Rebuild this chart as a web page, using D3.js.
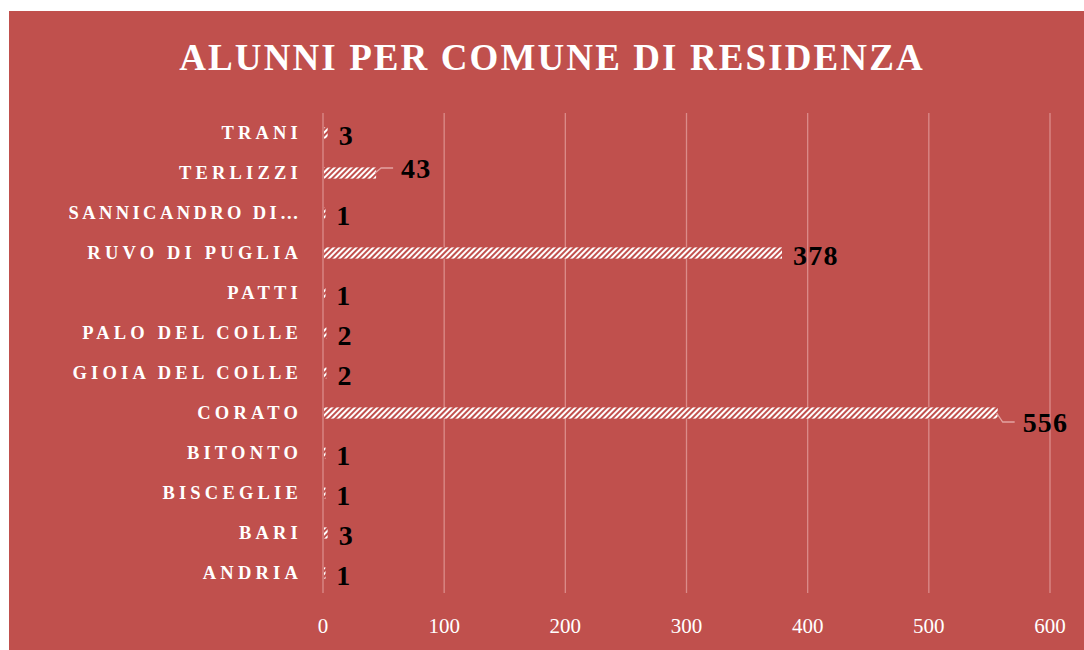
<!DOCTYPE html>
<html>
<head>
<meta charset="utf-8">
<script src="https://cdn.jsdelivr.net/npm/d3@7"></script>
<style>
  body { margin: 0; background: #fff; }
  svg { display: block; }
</style>
</head>
<body>
<div id="chart"></div>
<script>
// data, bottom to top as in the chart
const comuni = ['ANDRIA', 'BARI', 'BISCEGLIE', 'BITONTO', 'CORATO', 'GIOIA DEL COLLE',
  'PALO DEL COLLE', 'PATTI', 'RUVO DI PUGLIA', 'SANNICANDRO DI…', 'TERLIZZI', 'TRANI']
const alunni = [1, 3, 1, 1, 556, 2, 2, 1, 378, 1, 43, 3]
const xTicks = [0, 100, 200, 300, 400, 500, 600]
const title = 'ALUNNI PER COMUNE DI RESIDENZA'

const W = 1084
const H = 650
const margin = { top: 113, left: 323, right: 34, bottom: 56 }
const red = '#C0504D'
const serif = 'Liberation Serif, DejaVu Serif, serif'

const svg = d3.select('#chart')
  .append('svg')
  .attr('width', W)
  .attr('height', H)

// hatch pattern for bars
const defs = svg.append('defs')
const pat = defs.append('pattern')
  .attr('id', 'hatch')
  .attr('patternUnits', 'userSpaceOnUse')
  .attr('width', 4)
  .attr('height', 4)
  .attr('patternTransform', 'rotate(45)')
pat.append('rect').attr('width', 4).attr('height', 4).attr('fill', '#fff')
pat.append('rect').attr('x', 0).attr('width', 2).attr('height', 4).attr('fill', red)

svg.append('rect')
  .attr('x', 9)
  .attr('y', 11)
  .attr('width', W - 9)
  .attr('height', H - 11)
  .attr('fill', red)

svg.append('text')
  .attr('x', 552)
  .attr('y', 70)
  .attr('text-anchor', 'middle')
  .attr('font-family', serif)
  .attr('font-weight', 'bold')
  .attr('font-size', 37)
  .attr('letter-spacing', 2.1)
  .attr('fill', '#fff')
  .text(title)

const x = d3.scaleLinear()
  .domain([0, 600])
  .range([margin.left, W - margin.right])

const y = d3.scaleBand()
  .domain(comuni.slice().reverse())
  .range([margin.top, H - margin.bottom - 1])
  .paddingInner(0.72)
  .paddingOuter(0.36)

const g = svg.append('g')

// gridlines
g.selectAll('line.grid')
  .data(xTicks)
  .enter()
  .append('line')
  .attr('class', 'grid')
  .attr('x1', d => x(d))
  .attr('x2', d => x(d))
  .attr('y1', margin.top)
  .attr('y2', H - margin.bottom - 1)
  .attr('stroke', '#DB8C8A')
  .attr('stroke-width', 1.3)

// x tick labels
g.selectAll('text.tick')
  .data(xTicks)
  .enter()
  .append('text')
  .attr('class', 'tick')
  .attr('x', d => x(d))
  .attr('y', 633)
  .attr('text-anchor', 'middle')
  .attr('font-family', serif)
  .attr('font-size', 21)
  .attr('fill', '#fff')
  .text(d => d)

// category labels
g.selectAll('text.cat')
  .data(comuni)
  .enter()
  .append('text')
  .attr('class', 'cat')
  .attr('x', 302)
  .attr('y', d => y(d) + y.bandwidth() / 2)
  .attr('dy', '0.35em')
  .attr('text-anchor', 'end')
  .attr('font-family', serif)
  .attr('font-weight', 'bold')
  .attr('font-size', 18.5)
  .attr('letter-spacing', d => d.endsWith('…') ? 3.4 : 4.2)
  .attr('fill', '#fff')
  .text(d => d)

// bars
g.selectAll('rect.bar')
  .data(comuni)
  .enter()
  .append('rect')
  .attr('class', 'bar')
  .attr('x', x(0) + 1)
  .attr('y', d => y(d))
  .attr('height', y.bandwidth())
  .attr('width', (d, i) => Math.max(x(alunni[i]) - x(0), 1.5))
  .attr('fill', 'url(#hatch)')

// data labels; some are pushed out with a leader line
const shifted = { TERLIZZI: -5, CORATO: 9 }

comuni.forEach(function(c, i) {
  const v = alunni[i]
  const cy = y(c) + y.bandwidth() / 2
  const x0 = x(v)
  let tx = x0 + 12
  let ty = cy + 2
  if (shifted[c]) {
    const s = shifted[c]
    g.append('path')
      .attr('d', 'M' + x0 + ',' + cy + 'L' + (x0 + 6) + ',' + (cy + s) + 'H' + (x0 + 18))
      .attr('fill', 'none')
      .attr('stroke', '#E3A3A1')
      .attr('stroke-width', 1.3)
    tx = x0 + 26
    ty = cy + s
  }
  g.append('text')
    .attr('x', tx)
    .attr('y', ty)
    .attr('dy', '0.34em')
    .attr('font-family', serif)
    .attr('font-weight', 'bold')
    .attr('font-size', 28)
    .attr('letter-spacing', 1.2)
    .attr('fill', '#000')
    .text(v)
})
</script>
</body>
</html>
